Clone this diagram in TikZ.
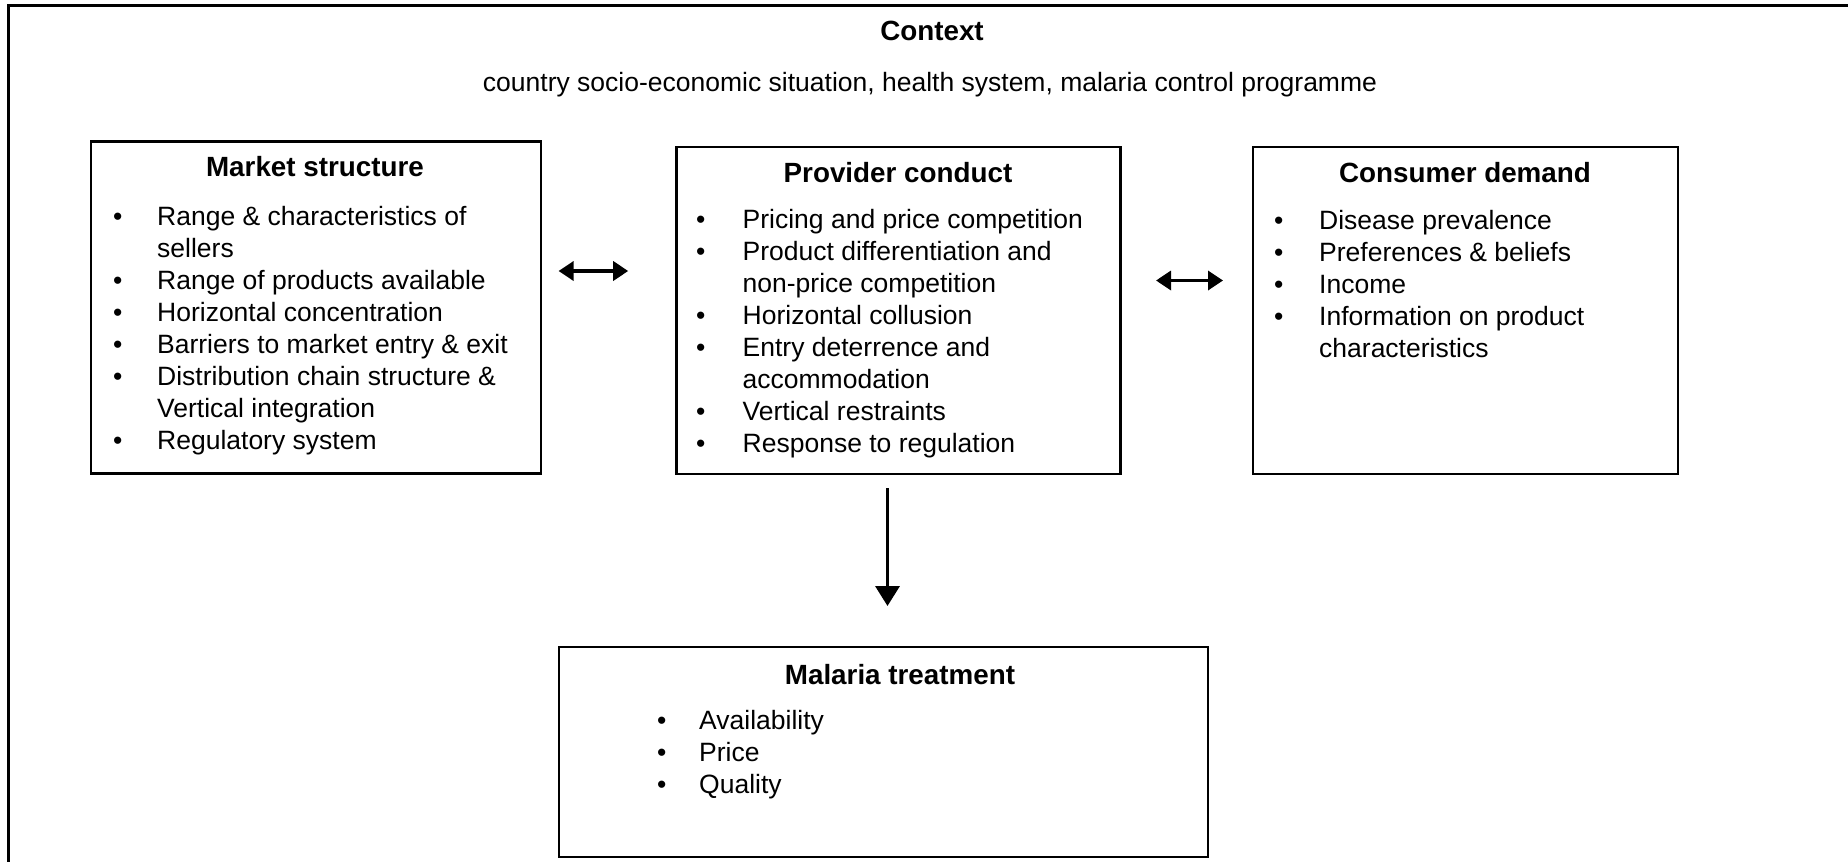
\documentclass[tikz,border=0pt]{standalone}
\usepackage{fontspec}
\setmainfont{Liberation Sans}
\usetikzlibrary{arrows.meta}
\begin{document}
\begin{tikzpicture}[x=1pt,y=-1pt,
  box/.style={draw,line width=2.2pt,inner sep=0pt,anchor=north west},
  title/.style={font=\fontsize{27.8}{32}\selectfont\bfseries,anchor=base,inner sep=0pt},
  plain/.style={font=\fontsize{26.5}{32}\selectfont,anchor=base,inner sep=0pt},
  list/.style={font=\fontsize{26.5}{32}\selectfont,anchor=base west,inner sep=0pt},
  dbl/.style={line width=3.5pt,{Triangle[length=15pt,width=19pt]}-{Triangle[length=15pt,width=19pt]}},
  down/.style={line width=3.5pt,-{Triangle[length=20pt,width=24pt]}}]
\useasboundingbox (0,0) rectangle (1848,862);
% outer frame (cropped)
\draw[line width=3pt] (8,862) -- (8,5) -- (1848,5);
% context
\node[title] (ctx) at (932,40) {Context};
\node[plain] (ctxs) at (930,91) {country socio-economic situation, health system, malaria control programme};
% boxes
\node[box,minimum width=450pt,minimum height=332pt] (ms) at (89.6,140.3) {};
\node[box,minimum width=444pt,minimum height=326.5pt] (pc) at (675.3,146.1) {};
\node[box,minimum width=425.4pt,minimum height=326.5pt] (cd) at (1251.7,146.1) {};
\node[box,minimum width=649.4pt,minimum height=209.8pt] (mt) at (557.5,645.9) {};
% titles
\node[title] (mst) at (315,176) {Market structure};
\node[title] (pct) at (898,182) {Provider conduct};
\node[title] (cdt) at (1465,182) {Consumer demand};
\node[title] (mtt) at (900,684) {Malaria treatment};
% lists
\node[list] (msl) at (113,225) {\begin{tabular}[t]{@{}p{44pt}@{}l@{}}
\textbullet & Range \& characteristics of\\
 & sellers\\
\textbullet & Range of products available\\
\textbullet & Horizontal concentration\\
\textbullet & Barriers to market entry \& exit\\
\textbullet & Distribution chain structure \&\\
 & Vertical integration\\
\textbullet & Regulatory system
\end{tabular}};
\node[list] (pcl) at (696,228) {\begin{tabular}[t]{@{}p{46.5pt}@{}l@{}}
\textbullet & Pricing and price competition\\
\textbullet & Product differentiation and\\
 & non-price competition\\
\textbullet & Horizontal collusion\\
\textbullet & Entry deterrence and\\
 & accommodation\\
\textbullet & Vertical restraints\\
\textbullet & Response to regulation
\end{tabular}};
\node[list] (cdl) at (1274,229.6) {\begin{tabular}[t]{@{}p{45pt}@{}l@{}}
\textbullet & Disease prevalence\\
\textbullet & Preferences \& beliefs\\
\textbullet & Income\\
\textbullet & Information on product\\
 & characteristics
\end{tabular}};
\node[list] (mtl) at (657,729) {\begin{tabular}[t]{@{}p{42pt}@{}l@{}}
\textbullet & Availability\\
\textbullet & Price\\
\textbullet & Quality
\end{tabular}};
% arrows
\coordinate (a1l) at (558.6,271);
\coordinate (a1r) at (628.2,271);
\coordinate (a2l) at (1156,280.5);
\coordinate (a2r) at (1223,280.5);
\coordinate (d1) at (887.5,488);
\coordinate (d2) at (887.5,606);
\draw[dbl] (a1l) -- (a1r);
\draw[dbl] (a2l) -- (a2r);
\draw[down] (d1) -- (d2);
\end{tikzpicture}
\end{document}
